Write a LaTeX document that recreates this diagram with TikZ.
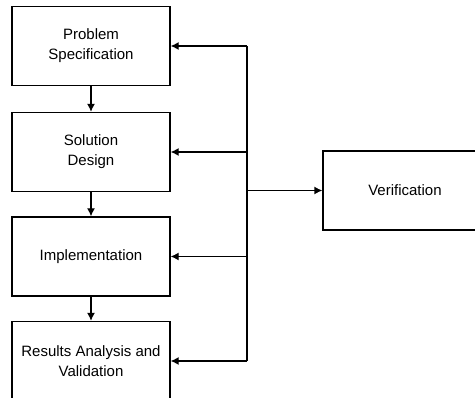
\documentclass[tikz,border=0pt]{standalone}
\usepackage{fontspec}
\setmainfont{Liberation Sans}
\usetikzlibrary{arrows.meta}
\begin{document}
\begin{tikzpicture}[x=1pt,y=-1pt,
  box/.style={draw=black,line width=1.3pt,minimum width=158pt,minimum height=79pt,
    inner sep=0pt,align=center,font=\fontsize{15}{20}\selectfont},
  vbox/.style={box,minimum width=164pt},
  link/.style={draw=black,line width=1.3pt},
  arr/.style={link,-{Latex[length=8pt,width=8pt]}}]
\useasboundingbox (0,0) rectangle (475,398);
\clip (0,0) rectangle (475,398);
\fill[white] (0,0) rectangle (475,398);
\node[box] (b1) at (91,46) {Problem\\Specification};
\node[box] (b2) at (91,152) {Solution\\Design};
\node[box] (b3) at (91,256.5) {Implementation};
\node[box] (b4) at (91,361) {Results Analysis and\\Validation};
\node[vbox] (v) at (405,190.5) {Verification};
\coordinate (bt) at (247,46);
\coordinate (bb) at (247,361);
\draw[link] (bt) -- (bb);
\draw[arr] (bt) -- (b1.east);
\draw[arr] (b2.east -| bt) -- (b2.east);
\draw[arr] (b3.east -| bt) -- (b3.east);
\draw[arr] (bb) -- (b4.east);
\draw[arr] (v.west -| bt) -- (v.west);
\draw[arr] (b1.south) -- (b2.north);
\draw[arr] (b2.south) -- (b3.north);
\draw[arr] (b3.south) -- (b4.north);
\end{tikzpicture}
\end{document}
